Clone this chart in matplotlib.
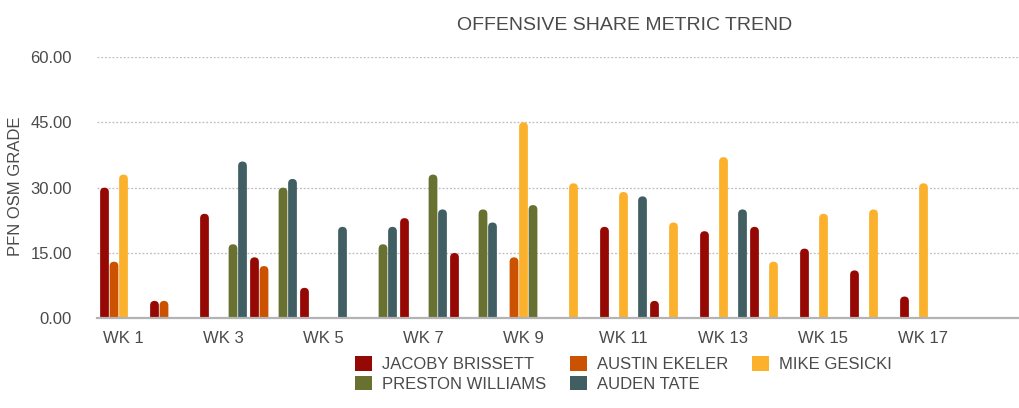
import matplotlib
matplotlib.use("Agg")
import matplotlib.pyplot as plt
from matplotlib.patches import FancyBboxPatch, Patch
import numpy as np

plt.rcParams['font.family'] = ['Liberation Sans', 'DejaVu Sans']

weeks = [f"WK {i}" for i in range(1, 19)]
tick_labels = [w if (i % 2 == 0) else "" for i, w in enumerate(weeks)]

series_names = ["JACOBY BRISSETT", "AUSTIN EKELER", "MIKE GESICKI",
                "PRESTON WILLIAMS", "AUDEN TATE"]
colors = ["#960804", "#CB5200", "#FBB12B", "#697131", "#415F63"]

nan = np.nan
jacoby   = [30, 4, 24, 14, 7, nan, 23, 15, nan, nan, 21, 4, 20, 21, 16, 11, 5, nan]
austin   = [13, 4, nan, 12, nan, nan, nan, nan, 14, nan, nan, nan, nan, nan, nan, nan, nan, nan]
gesicki  = [33, nan, nan, nan, nan, nan, nan, nan, 45, 31, 29, 22, 37, 13, 24, 25, 31, nan]
preston  = [nan, nan, 17, 30, nan, 17, 33, 25, 26, nan, nan, nan, nan, nan, nan, nan, nan, nan]
auden    = [nan, nan, 36, 32, 21, 21, 25, 22, nan, nan, 28, nan, 25, nan, nan, nan, nan, nan]
all_series = [jacoby, austin, gesicki, preston, auden]

W, H = 1019, 408
fig = plt.figure(figsize=(W / 100, H / 100), dpi=100)
ax_left, ax_right = 97, 1019
ax_top, ax_bot = 57.0, 318.3
ax = fig.add_axes([ax_left / W, 1 - ax_bot / H, (ax_right - ax_left) / W, (ax_bot - ax_top) / H])

x = np.arange(len(weeks))
slot = 0.19
bw = 0.175
px_per_x = 50.0
ax.set_xlim((ax_left - 123.5) / px_per_x, (ax_right - 123.5) / px_per_x)
ax.set_ylim(0, 60)

px_per_y = (ax_bot - ax_top) / 60.0
r_px = 4.5
r_x = r_px / px_per_x
r_y = r_px / px_per_y
aspect = r_y / r_x

for s, (vals, col, name) in enumerate(zip(all_series, colors, series_names)):
    offs = (s - 2) * slot
    vals_arr = np.array(vals, dtype=float)
    bars = ax.bar(x + offs, np.nan_to_num(vals_arr), width=bw, color=col, label=name)
    for rect, v in zip(bars.patches, vals_arr):
        rect.set_visible(False)
        if np.isnan(v) or v <= 0:
            continue
        x0 = rect.get_x()
        w = rect.get_width()
        h = rect.get_height()
        p = FancyBboxPatch((x0, -r_y), w, h + r_y,
                           boxstyle=f"round,pad=0,rounding_size={r_x}",
                           mutation_aspect=aspect, facecolor=col, edgecolor='none',
                           zorder=3)
        ax.add_patch(p)

ax.set_yticks([0, 15, 30, 45, 60])
ax.set_yticklabels([f"{v:.2f}" for v in [0, 15, 30, 45, 60]])
ax.set_xticks(x)
ax.set_xticklabels(tick_labels)
ax.tick_params(axis='both', length=0, labelsize=12, colors='#4a4a4a')
ax.tick_params(axis='y', pad=18)
ax.tick_params(axis='x', pad=9)

ax.grid(axis='y', color='#bdbdbd', linestyle=(0, (1.5, 1.5)), linewidth=0.9)
ax.set_axisbelow(True)
for sp in ['top', 'right', 'left']:
    ax.spines[sp].set_visible(False)
ax.spines['bottom'].set_color('#b3b3b3')
ax.spines['bottom'].set_linewidth(1.6)
ax.spines['bottom'].set_zorder(5)

fig.text(16 / W, 1 - 186.7 / H, "PFN OSM GRADE", rotation=90, ha='center', va='center',
         fontsize=12, color='#4a4a4a')
fig.text(625 / W, 1 - 26 / H, "OFFENSIVE SHARE METRIC TREND", ha='center', va='center',
         fontsize=14, color='#4a4a4a')

# legend filled row-wise: reorder for matplotlib's column-major fill
proxies = [Patch(facecolor=c, edgecolor='none') for c in colors]
order = [0, 3, 1, 4, 2]
leg = fig.legend(handles=[proxies[i] for i in order],
                 labels=[series_names[i] for i in order], ncol=3,
                 loc='upper left', bbox_to_anchor=(355 / W, 1 - 356 / H),
                 frameon=False, fontsize=12, handlelength=1.0, handleheight=1.0,
                 handletextpad=0.6, columnspacing=1.45, labelspacing=0.2,
                 borderpad=0.0, borderaxespad=0.0)
for t in leg.get_texts():
    t.set_color('#4a4a4a')

fig.savefig("out.png", dpi=100)
